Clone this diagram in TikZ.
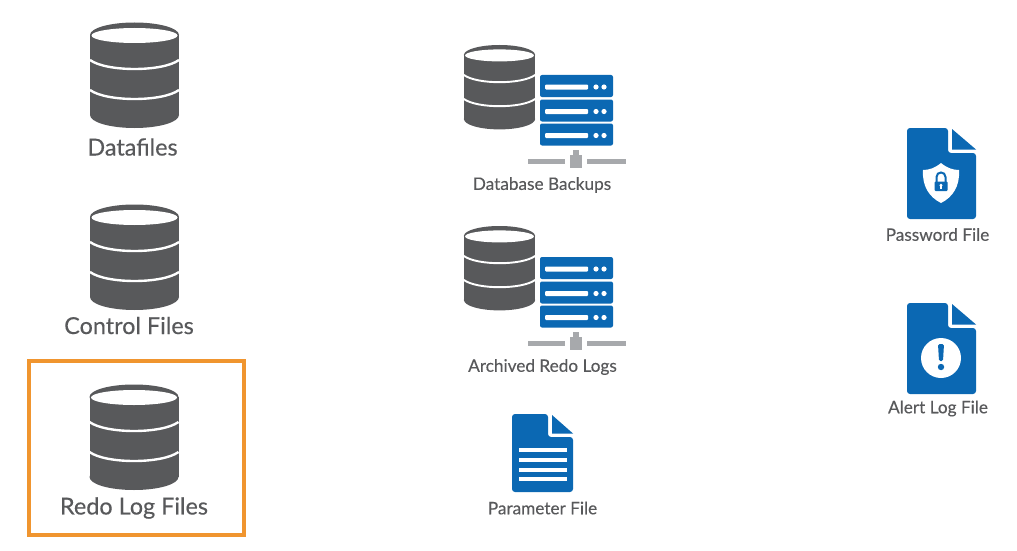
\documentclass[tikz,border=0pt]{standalone}
\usepackage{fontspec}
\setmainfont{Lato}[FakeBold=0.25]
\definecolor{dbgray}{HTML}{58595B}
\definecolor{txt}{HTML}{58595B}
\definecolor{docblue}{HTML}{0B68B3}
\definecolor{netgray}{HTML}{A7A9AC}
\definecolor{hl}{HTML}{F0952F}
\newcommand{\cylicon}[3]{%
\begin{scope}[shift={(#1,#2)},scale=#3]
\fill[dbgray] (0,80) ellipse [x radius=44.5,y radius=13];
\fill[dbgray] (-44.5,0) rectangle (44.5,80);
\fill[dbgray] (0,0) ellipse [x radius=44.5,y radius=12.5];
\fill[white] (0,0.5) ellipse [x radius=43,y radius=7.5];
\draw[white,line width=#3*2.4pt] (-44.5,25) .. controls (-28,37) and (28,37) .. (44.5,25);
\draw[white,line width=#3*2.4pt] (-44.5,55) .. controls (-28,67) and (28,67) .. (44.5,55);
\end{scope}}
\newcommand{\srvrow}[1]{%
\fill[docblue,rounded corners=2pt] (540,#1) rectangle (613,#1+22);
\fill[white,rounded corners=1pt] (545,#1+9.5) rectangle (588,#1+14.5);
\fill[white] (596,#1+12) circle (2.6);
\fill[white] (604,#1+12) circle (2.6);}
\newcommand{\srvicon}[1]{%
\begin{scope}[yshift=-#1pt]
\srvrow{75}\srvrow{99.5}\srvrow{123.5}
\fill[netgray] (528,158.5) rectangle (565,163.5);
\fill[netgray] (587,158.5) rectangle (626,163.5);
\fill[netgray] (570,155) rectangle (582,168);
\fill[netgray] (573,150) rectangle (579,155);
\end{scope}}
% x0,x1,y0,y1,foldx,foldy
\newcommand{\docicon}[6]{%
\fill[docblue,rounded corners=3pt] (#1,#3) -- (#5,#3) -- (#5,#6) -- (#2,#6) -- (#2,#4) -- (#1,#4) -- cycle;
\fill[docblue] (#5+4,#3+1) -- (#2,#6-3.5) -- (#5+4,#6-3.5) -- cycle;}
\tikzset{big/.style={text=txt,font=\fontsize{23.4}{26}\selectfont,inner sep=0pt},
 small/.style={text=txt,font=\fontsize{17.2}{20}\selectfont,inner sep=0pt}}
\begin{document}
\begin{tikzpicture}[x=1pt,y=-1pt]
\useasboundingbox[fill=white] (0,0) rectangle (1017,551);
\cylicon{134.5}{35}{1}
\cylicon{134.5}{217}{1}
\cylicon{134}{397}{1}
\cylicon{499.5}{55}{0.8}
\cylicon{499.5}{236}{0.8}
\srvicon{0}
\srvicon{182}
\node[big] (datafiles) at (132.5,147) {Datafiles};
\node[big] (control) at (129,325.5) {Control Files};
\node[big] (redo) at (134,508) {Redo Log Files};
\node[small] (backups) at (542,185) {Database Backups};
\node[small] (archived) at (542.5,367) {Archived Redo Logs};
\node[small] (param) at (542.5,508) {Parameter File};
\node[small] (password) at (937.5,234.5) {Password File};
\node[small] (alert) at (938,408.5) {Alert Log File};
\node[draw=hl,line width=4pt,inner sep=0pt,minimum width=215pt,minimum height=174pt] (frame) at (136.5,448) {};
% parameter file
\docicon{512}{573}{414}{492}{548}{437}
\foreach \ly in {450,460,470,479}{\fill[white] (519,\ly-2) rectangle (567,\ly+2);}
% password file
\docicon{907}{976}{128}{219}{948}{153}
\fill[white] (941,163) .. controls (935,168) and (929,170) .. (923,170)
  .. controls (922,186) and (929,197) .. (941,203)
  .. controls (953,197) and (960,186) .. (959,170)
  .. controls (953,170) and (947,168) .. (941,163) -- cycle;
\draw[docblue,line width=2pt] (936.5,182) -- (936.5,177) .. controls (936.5,171) and (945.5,171) .. (945.5,177) -- (945.5,182);
\fill[docblue,rounded corners=1pt] (934.5,181.5) rectangle (947.5,191);
\fill[white] (941,185.2) circle (1.6);
\fill[white] (940.2,185.5) rectangle (941.8,188.8);
% alert log file
\docicon{907}{976}{303}{394}{948}{328}
\fill[white] (941,358) circle (20);
\fill[docblue,rounded corners=1.5pt] (938,344) -- (944,344) -- (943,361) -- (939,361) -- cycle;
\fill[docblue] (941,367) circle (3.2);
\end{tikzpicture}
\end{document}
